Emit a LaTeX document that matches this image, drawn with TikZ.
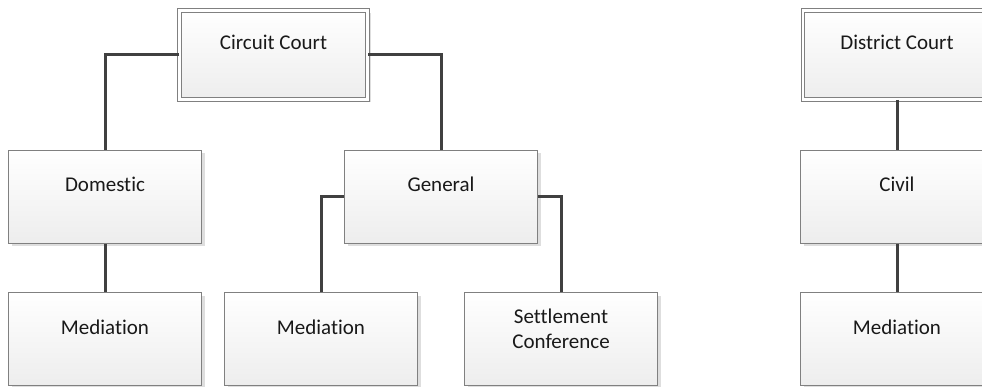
\documentclass[tikz,border=0pt]{standalone}
\usepackage{fontspec}
\setmainfont[Ligatures=NoCommon]{Carlito}
\usetikzlibrary{shadows}

\begin{document}
\begin{tikzpicture}[x=1pt, y=-1pt,
		unit/.style={draw=black!50, line width=1pt, top color=white, bottom color=black!7,
			minimum width=193pt, minimum height=93pt, inner sep=0pt,
			drop shadow={shadow xshift=3pt, shadow yshift=-3pt, fill=black!13, opacity=1}},
		court/.style={unit, double=white, double distance=2.5pt, minimum width=188pt, minimum height=89pt},
		caption/.style={anchor=base, inner sep=0pt, yshift=-42pt, text=black!90, align=center,
			font=\fontsize{21}{24.5}\selectfont},
		link/.style={draw=black!75, line width=3pt}]
		%%%%% START %%%%%
		
		\useasboundingbox (0, 0) rectangle (982, 387);
		
		% circuit court
		\node[court, label={[caption, yshift=2.5pt]90:Circuit Court}] (circuit) at (273.5, 55) {};
		\node[unit, label={[caption]90:Domestic}] (domestic) at (105, 197) {};
		\node[unit, label={[caption]90:General}] (general) at (441, 197) {};
		\node[unit, label={[caption]90:Mediation}] (dommed) at (105, 339) {};
		\node[unit, label={[caption]90:Mediation}] (genmed) at (321, 339) {};
		\node[unit, label={[caption, yshift=-14pt]90:Settlement\\Conference}] (settle) at (561, 339) {};
		
		% district court
		\node[court, label={[caption, yshift=2.5pt]90:District Court}] (district) at (897, 55) {};
		\node[unit, label={[caption]90:Civil}] (civil) at (897, 197) {};
		\node[unit, label={[caption]90:Mediation}] (civmed) at (897, 339) {};
		
		\draw[link] (circuit.west) -| (domestic.north);
		\draw[link] (circuit.east) -| (general.north);
		\draw[link] (domestic.south) -- (dommed.north);
		\draw[link] (general.west) -| (genmed.north);
		\draw[link] (general.east) -| (settle.north);
		
		\draw[link] (district.south) -- (civil.north);
		\draw[link] (civil.south) -- (civmed.north);
		
		%%%%% END %%%%%
	\end{tikzpicture}
\end{document}
